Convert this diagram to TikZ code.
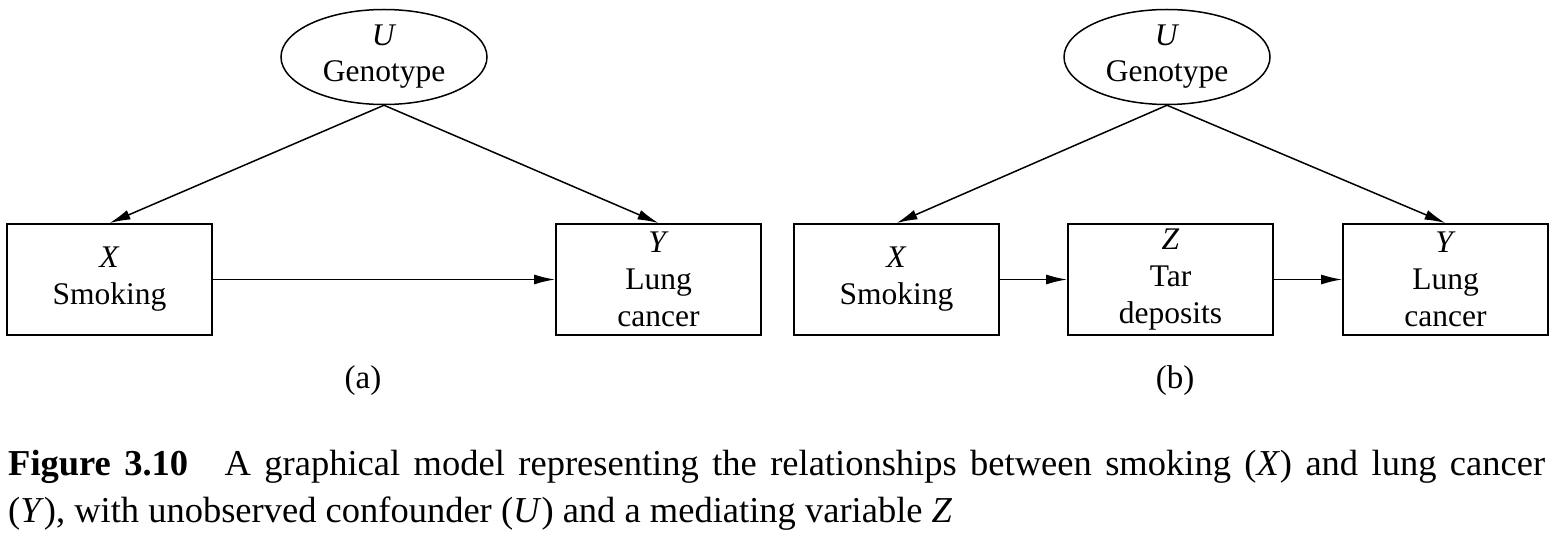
\documentclass[tikz,border=0pt]{standalone}
\usepackage{fontspec}
\setmainfont{Liberation Serif}
\usetikzlibrary{arrows.meta,shapes.geometric}

\tikzset{
  varbox/.style={draw,line width=1.8pt,minimum width=205pt,minimum height=111pt,
    align=center,inner sep=0pt,font=\fontsize{31.5}{37}\selectfont},
  latent/.style={ellipse,draw,line width=1.5pt,minimum width=206pt,minimum height=95pt,
    align=center,inner sep=0pt,font=\fontsize{31.5}{36}\selectfont},
  edge/.style={line width=1.5pt,-{Latex[length=21pt,width=10pt]}},
  panel/.style={font=\fontsize{33}{38}\selectfont},
  capline/.style={anchor=base west,inner sep=0pt,font=\fontsize{36.5}{47}\selectfont}
}

\begin{document}
\begin{tikzpicture}[x=1pt,y=-1pt]
\useasboundingbox (0,0) rectangle (1554,534);
% (a) confounded model
\node[latent] (Ua) at (384,57) {\textit{U}\\Genotype};
\node[varbox] (Xa) at (109.5,279.5) {\textit{X}\\Smoking};
\node[varbox] (Ya) at (658.5,279.5) {\textit{Y}\\Lung\\cancer};
\draw[edge] (Ua.south) -- (Xa.north);
\draw[edge] (Ua.south) -- (Ya.north);
\draw[edge] (Xa) -- (Ya);
\node[panel] (pa) at (363,381) {(a)};
% (b) with mediator
\node[latent] (Ub) at (1167,57) {\textit{U}\\Genotype};
\node[varbox] (Xb) at (896.5,279.5) {\textit{X}\\Smoking};
\node[varbox] (Zb) at (1170.5,279.5) {\textit{Z}\\Tar\\deposits};
\node[varbox] (Yb) at (1445.5,279.5) {\textit{Y}\\Lung\\cancer};
\draw[edge] (Ub.south) -- (Xb.north);
\draw[edge] (Ub.south) -- (Yb.north);
\draw[edge] (Xb) -- (Zb);
\draw[edge] (Zb) -- (Yb);
\node[panel] (pb) at (1175,381) {(b)};
% caption
\node[capline] (cap1) at (8,475) {\makebox[1537pt][s]{\textbf{Figure 3.10}\quad A graphical model representing the relationships between smoking (\textit{X}) and lung cancer}};
\node[capline] (cap2) at (8,522) {(\textit{Y}), with unobserved confounder (\textit{U}) and a mediating variable \textit{Z}};
\end{tikzpicture}
\end{document}
